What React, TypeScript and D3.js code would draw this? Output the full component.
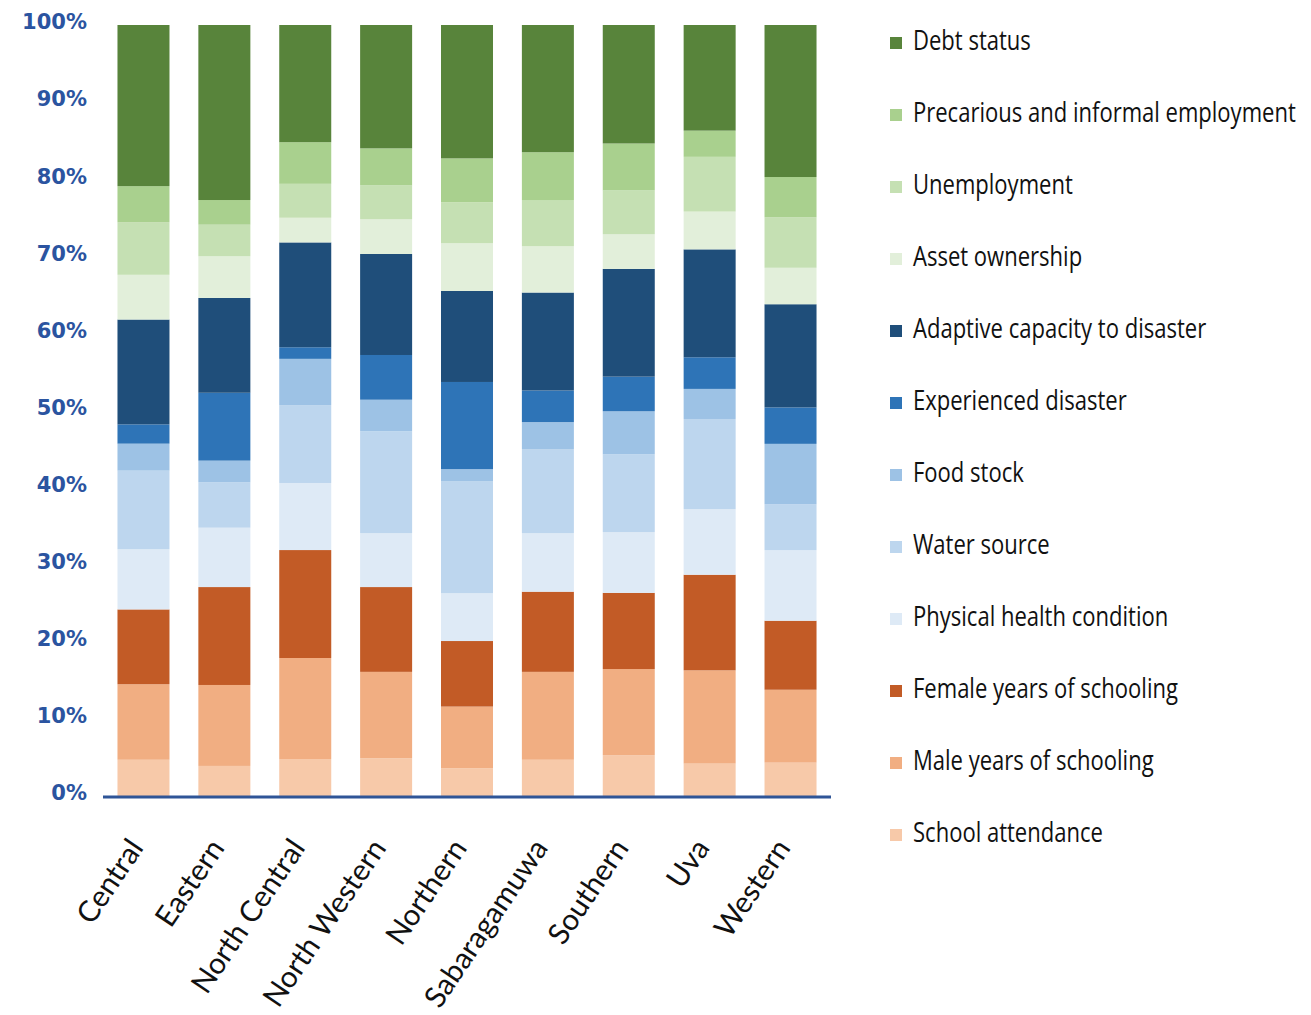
import React, { useEffect, useRef } from "react";
import * as d3 from "d3";

const regions = ["Central", "Eastern", "North Central", "North Western", "Northern", "Sabaragamuwa", "Southern", "Uva", "Western"];

// Series listed bottom to top
const seriesNames = [
  "School attendance",
  "Male years of schooling",
  "Female years of schooling",
  "Physical health condition",
  "Water source",
  "Food stock",
  "Experienced disaster",
  "Adaptive capacity to disaster",
  "Asset ownership",
  "Unemployment",
  "Precarious and informal employment",
  "Debt status",
];

const schoolAttendance = [4.7, 3.9, 4.8, 4.9, 3.6, 4.7, 5.3, 4.2, 4.3];
const maleSchooling = [9.8, 10.5, 13.1, 11.2, 8.0, 11.4, 11.2, 12.1, 9.4];
const femaleSchooling = [9.7, 12.7, 14.0, 11.0, 8.5, 10.4, 9.9, 12.4, 8.9];
const physicalHealth = [7.8, 7.7, 8.7, 7.0, 6.2, 7.6, 7.9, 8.5, 9.1];
const waterSource = [10.2, 5.9, 10.1, 13.2, 14.5, 10.9, 10.1, 11.7, 5.9];
const foodStock = [3.5, 2.8, 6.0, 4.1, 1.6, 3.5, 5.6, 3.9, 7.8];
const experiencedDisaster = [2.5, 8.8, 1.5, 5.8, 11.3, 4.1, 4.5, 4.1, 4.7];
const adaptiveCapacity = [13.6, 12.3, 13.6, 13.1, 11.8, 12.7, 14.0, 14.0, 13.3];
const assetOwnership = [5.8, 5.4, 3.2, 4.5, 6.2, 6.0, 4.5, 4.9, 4.7];
const unemployment = [6.8, 4.1, 4.4, 4.4, 5.3, 6.0, 5.7, 7.1, 6.5];
const precariousEmployment = [4.7, 3.2, 5.4, 4.8, 5.7, 6.2, 6.1, 3.4, 5.2];
const debtStatus = [20.9, 22.7, 15.2, 16.0, 17.3, 16.5, 15.4, 13.7, 19.6];

const seriesValues = [
  schoolAttendance,
  maleSchooling,
  femaleSchooling,
  physicalHealth,
  waterSource,
  foodStock,
  experiencedDisaster,
  adaptiveCapacity,
  assetOwnership,
  unemployment,
  precariousEmployment,
  debtStatus,
];

const seriesColors = [
  "#f7c9a9",
  "#f1ae82",
  "#c25b26",
  "#deeaf6",
  "#bdd6ee",
  "#9dc2e5",
  "#2e74b7",
  "#1f4e7a",
  "#e2efda",
  "#c5e0b3",
  "#a9d08e",
  "#58843b",
];

const yTicks = [0, 0.1, 0.2, 0.3, 0.4, 0.5, 0.6, 0.7, 0.8, 0.9, 1.0];

export default function App() {
  const ref = useRef<SVGSVGElement>(null);

  useEffect(() => {
    const svg = d3.select(ref.current);
    svg.selectAll("*").remove();

    const table = regions.map((r, i) => {
      const row: any = { region: r };
      seriesNames.forEach((s, k) => (row[s] = seriesValues[k][i]));
      return row;
    });

    const stack = d3.stack().keys(seriesNames).offset(d3.stackOffsetExpand);
    const stacked = stack(table as any);

    const x = d3.scaleBand().domain(regions).range([95, 823]).paddingInner(0.357).paddingOuter(0.179);
    const y = d3.scaleLinear().domain([0, 1]).range([788, 17]);
    const color = d3.scaleOrdinal<string, string>().domain(seriesNames).range(seriesColors);

    const g = svg.append("g");

    g.selectAll("g.layer")
      .data(stacked)
      .join("g")
      .attr("class", "layer")
      .attr("fill", (d: any) => color(d.key))
      .selectAll("rect")
      .data((d: any) => d)
      .join("rect")
      .attr("x", (d: any) => x(d.data.region)!)
      .attr("width", x.bandwidth())
      .attr("y", (d: any) => y(d[1]))
      .attr("height", (d: any) => y(d[0]) - y(d[1]));

    // baseline
    g.append("line")
      .attr("x1", 95)
      .attr("x2", 823)
      .attr("y1", y(0) + 1)
      .attr("y2", y(0) + 1)
      .attr("stroke", "#2f5597")
      .attr("stroke-width", 3);

    // y labels
    g.selectAll("text.ytick")
      .data(yTicks)
      .join("text")
      .attr("class", "ytick")
      .attr("x", 79)
      .attr("y", (d) => y(d) - 3)
      .attr("dy", "0.35em")
      .attr("text-anchor", "end")
      .attr("font-family", "'DejaVu Sans', sans-serif")
      .attr("font-weight", "bold")
      .attr("font-size", 21)
      .attr("fill", "#2b54a0")
      .text((d) => d3.format(".0%")(d));

    // x labels
    g.selectAll("text.xlab")
      .data(regions)
      .join("text")
      .attr("class", "xlab")
      .attr("text-anchor", "end")
      .attr("font-family", "Lato, 'Open Sans', sans-serif")
      .attr("font-size", 29.5)
      .attr("fill", "#111")
      .attr("transform", (d) => `translate(${x(d)! + x.bandwidth() / 2 + 1},${840}) rotate(-56)`)
      .text((d) => d);

    // legend (top to bottom)
    const legendOrder = seriesNames.slice().reverse();
    const lg = g.selectAll("g.leg").data(legendOrder).join("g").attr("class", "leg")
      .attr("transform", (_d, i) => `translate(882,${42 + i * 72})`);
    lg.append("rect").attr("x", 0).attr("y", -13).attr("width", 12).attr("height", 12).attr("fill", (d) => color(d));
    const texts = lg.append("text")
      .attr("x", 0)
      .attr("y", 0)
      .attr("font-family", "'Open Sans', sans-serif")
      .attr("font-size", 27.5)
      .attr("fill", "#111")
      .text((d) => d);
    let longest = 0;
    texts.each(function (d) {
      if (d === "Precarious and informal employment") {
        longest = (this as SVGTextElement).getComputedTextLength();
      }
    });
    const f = longest > 0 ? 383 / longest : 0.72;
    texts.attr("transform", `translate(23,0) scale(${f},1)`);
  }, []);

  return <svg ref={ref} width={1303} height={1005} style={{ display: "block" }} />;
}
